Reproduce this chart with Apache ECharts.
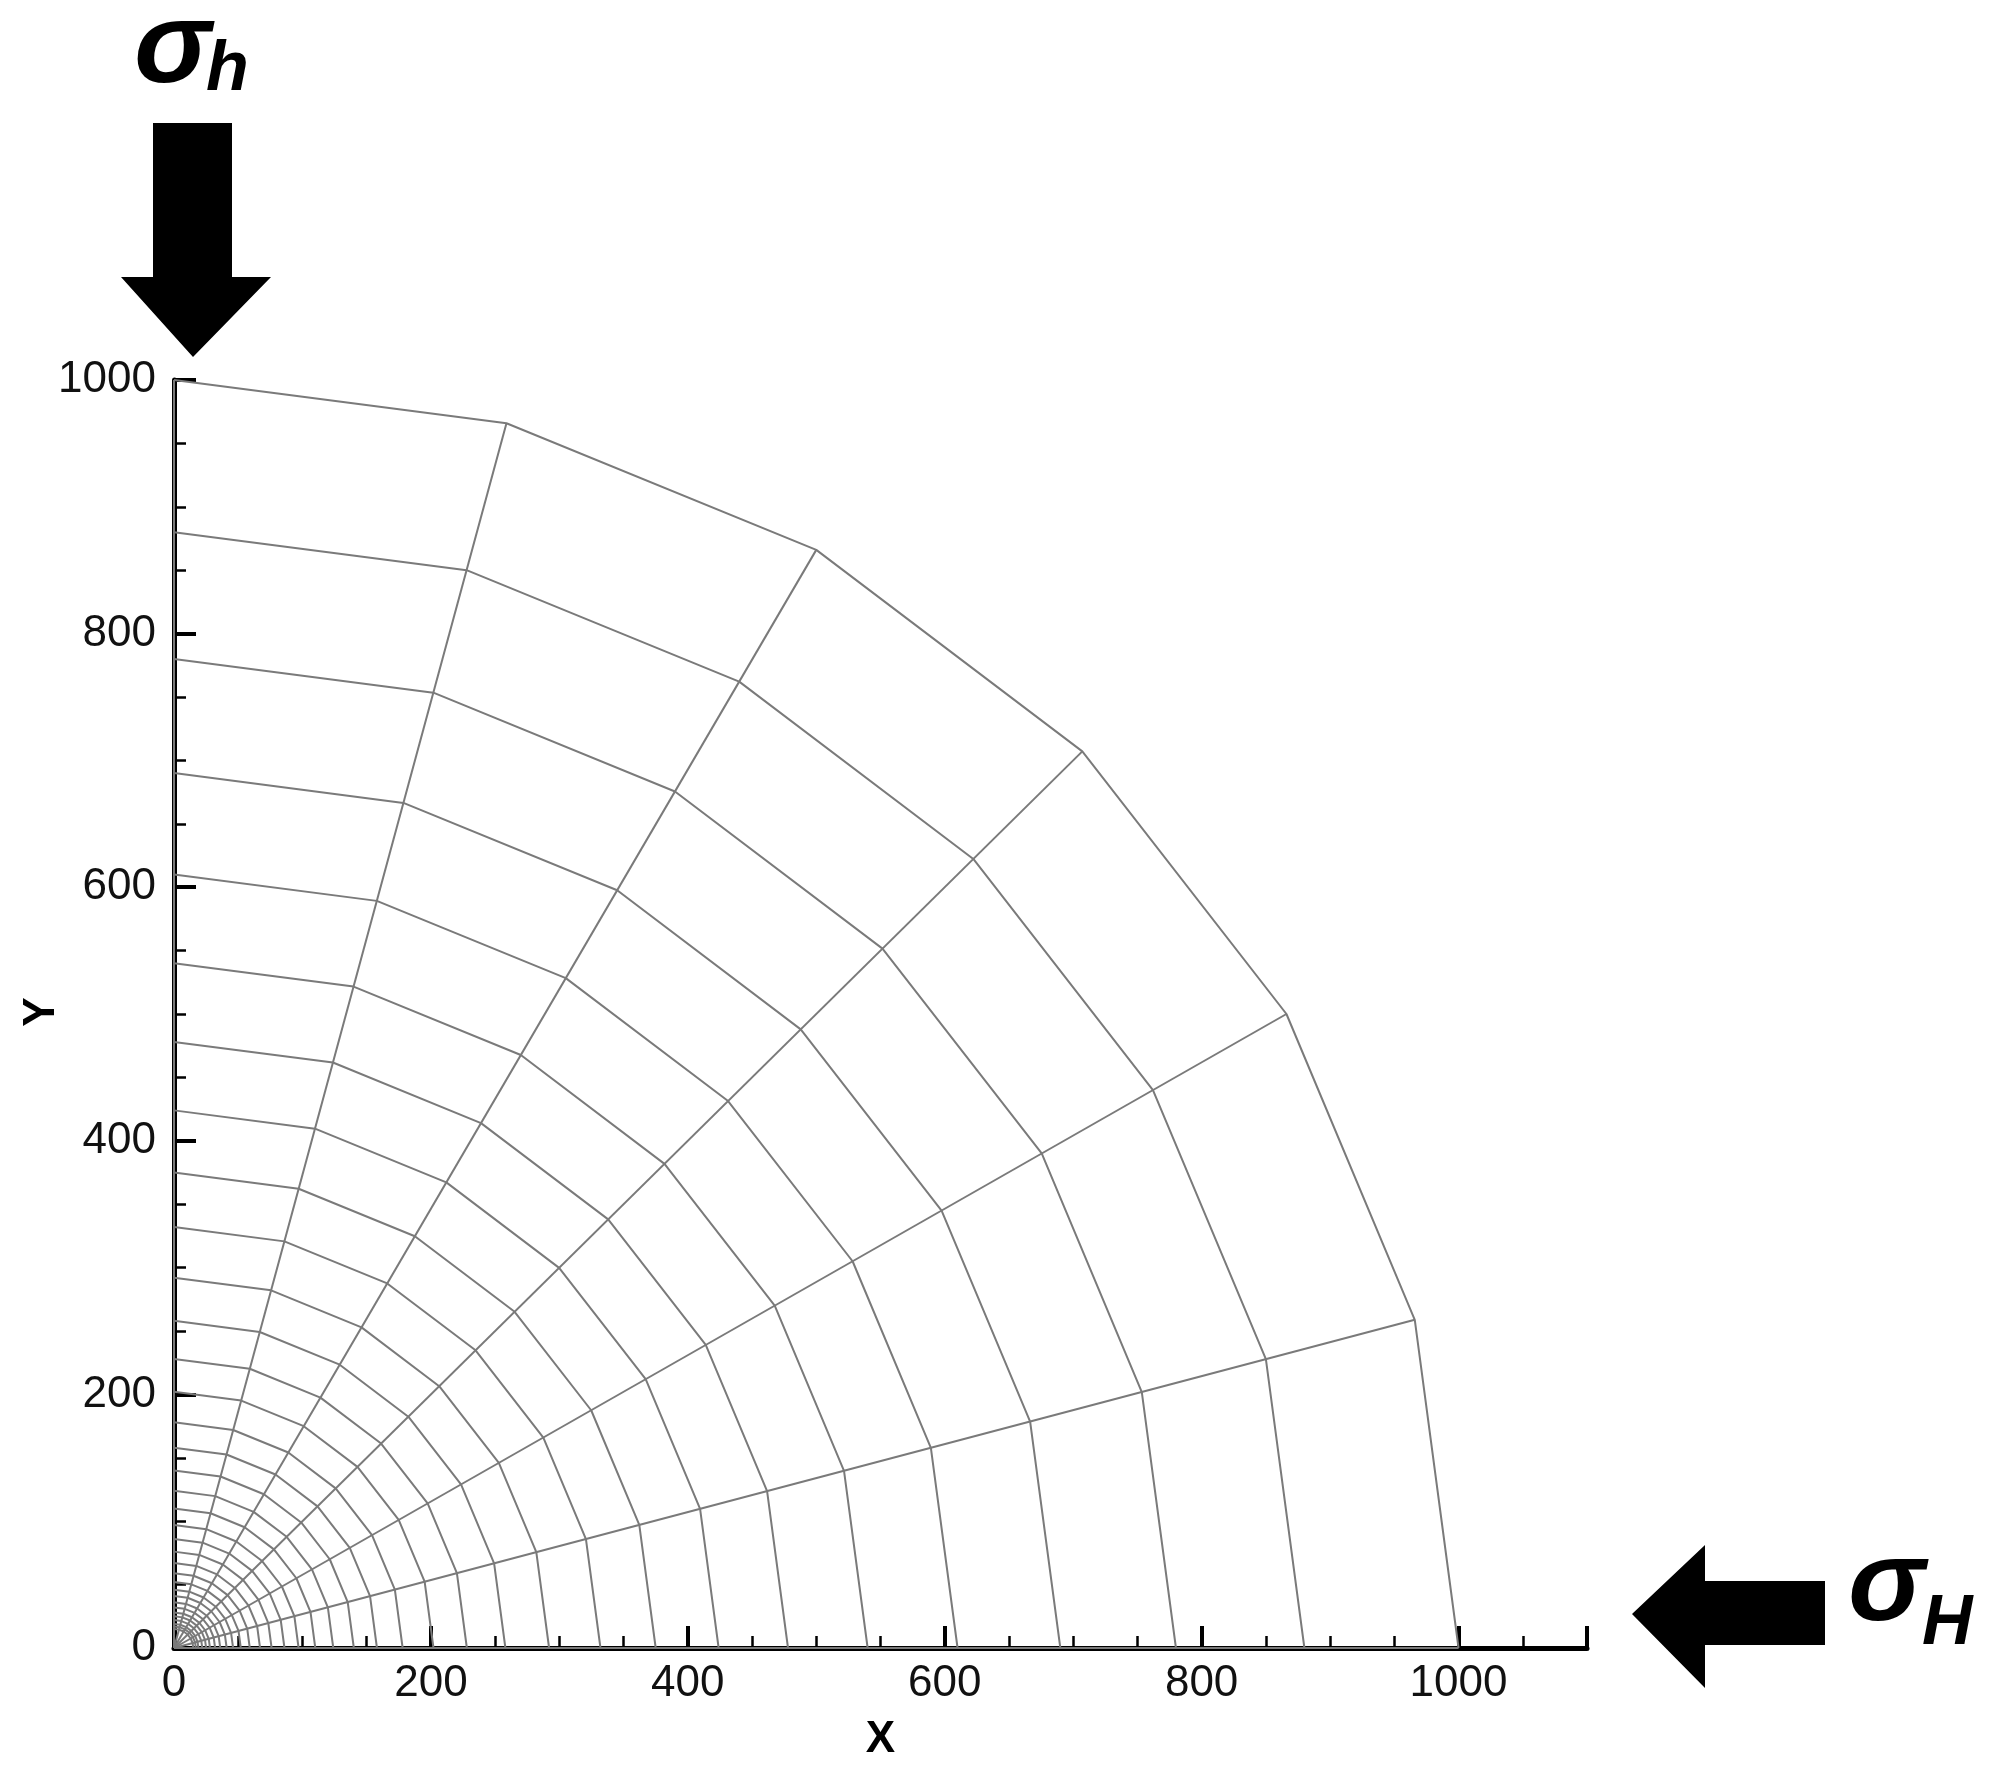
<!DOCTYPE html>
<html>
<head>
<meta charset="utf-8">
<script src="https://cdn.jsdelivr.net/npm/echarts@6/dist/echarts.min.js"></script>
<style>html,body{margin:0;padding:0;background:#fff}#chart{width:1994px;height:1768px}</style>
</head>
<body>
<div id="chart"></div>
<script>
// mesh node angles (degrees) and ring radii
const angles = [0, 15, 30, 45, 60, 75, 90];
const radii = [1000, 880, 780, 690, 610, 540, 478, 424, 375, 332, 292, 258, 228, 202, 178, 158, 140, 124, 110, 97, 86, 76, 67, 59, 52, 46, 41, 36, 32, 28, 25, 22, 19, 17, 15];
const xTicks = [0, 200, 400, 600, 800, 1000];
const yTicks = [0, 200, 400, 600, 800, 1000];

const toXY = (r, a) => [r * Math.cos(a * Math.PI / 180), r * Math.sin(a * Math.PI / 180)];
const meshStyle = {color: '#7a7a7a', width: 2};
const series = [];
radii.forEach(r => {
  series.push({type: 'line', data: angles.map(a => toXY(r, a)), symbol: 'none', silent: true, lineStyle: meshStyle, z: 2});
});
angles.forEach(a => {
  series.push({type: 'line', data: [[0, 0], toXY(radii[0], a)], symbol: 'none', silent: true, lineStyle: meshStyle, z: 2});
});

const labelFont = {fontFamily: 'Liberation Sans', fontSize: 44, color: '#111'};
const chart = echarts.init(document.getElementById('chart'));
chart.setOption({
  animation: false,
  grid: {left: 174, right: 407, top: 380, bottom: 120, containLabel: false, outerBoundsMode: 'none'},
  xAxis: {
    type: 'value', min: 0, max: 1100, interval: 200,
    axisLine: {lineStyle: {color: '#000', width: 5}},
    axisTick: {inside: true, length: 22, lineStyle: {color: '#000', width: 4}},
    minorTick: {show: true, splitNumber: 4, length: 12, lineStyle: {color: '#000', width: 2.5}},
    splitLine: {show: false},
    axisLabel: Object.assign({margin: 14, formatter: v => xTicks.includes(v) ? String(v) : ''}, labelFont),
    name: 'X', nameLocation: 'middle', nameGap: 70,
    nameTextStyle: {fontFamily: 'Liberation Sans', fontSize: 44, fontWeight: 'bold', color: '#000'}
  },
  yAxis: {
    type: 'value', min: 0, max: 1000, interval: 200,
    axisLine: {lineStyle: {color: '#000', width: 5}},
    axisTick: {inside: true, length: 22, lineStyle: {color: '#000', width: 4}},
    minorTick: {show: true, splitNumber: 4, length: 12, lineStyle: {color: '#000', width: 2.5}},
    splitLine: {show: false},
    axisLabel: Object.assign({margin: 18, formatter: v => yTicks.includes(v) ? String(v) : ''}, labelFont)
  },
  series: series,
  graphic: [
    {type: 'text', x: 42, y: 1012, rotation: Math.PI / 2, style: {text: 'Y', font: 'bold 44px "Liberation Sans"', fill: '#000', align: 'center', verticalAlign: 'middle'}},
    {type: 'polygon', shape: {points: [[153, 123], [232, 123], [232, 277], [271, 277], [193, 357], [121, 277], [153, 277]]}, style: {fill: '#000'}},
    {type: 'text', left: 134, top: -8, style: {text: 'σ', font: 'bold italic 116px "Liberation Sans"', fill: '#000'}},
    {type: 'text', left: 206, top: 36, style: {text: 'h', font: 'bold italic 70px "Liberation Sans"', fill: '#000'}},
    {type: 'polygon', shape: {points: [[1632, 1614], [1705, 1545], [1705, 1581], [1825, 1581], [1825, 1645], [1705, 1645], [1705, 1688]]}, style: {fill: '#000'}},
    {type: 'text', left: 1848, top: 1530, style: {text: 'σ', font: 'bold italic 116px "Liberation Sans"', fill: '#000'}},
    {type: 'text', left: 1922, top: 1590, style: {text: 'H', font: 'bold italic 70px "Liberation Sans"', fill: '#000'}}
  ]
});
</script>
</body>
</html>
